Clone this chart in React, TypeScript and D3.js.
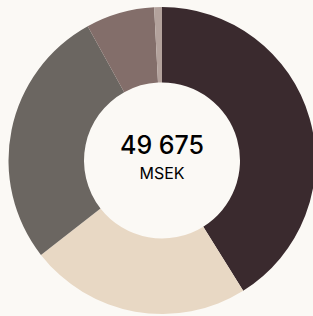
import React from "react";
import * as d3 from "d3";

const categories = ["A", "B", "C", "D", "E"];
const values = [20430, 11590, 13660, 3590, 405];
const colors = ["#3a2a2e", "#e8d8c4", "#6b6661", "#836e6a", "#b3a29c"];
const totalLabel = "49 675";
const unitLabel = "MSEK";

export default function App() {
  const W = 313, H = 316;
  const cx = 162, cy = 160.5;
  const outerR = 153.5, innerR = 78;
  const pie = d3.pie<number>().value((d) => d).sort(null);
  const arcs = pie(values);
  const arc = d3.arc<d3.PieArcDatum<number>>().innerRadius(innerR).outerRadius(outerR);
  React.useEffect(() => {
    document.body.style.margin = "0";
  }, []);
  return (
    <svg width={W} height={H} style={{ position: "absolute", left: 0, top: 0, display: "block" }}>
      <rect width={W} height={H} fill="#fbf9f5" />
      <g transform={`translate(${cx},${cy})`}>
        {arcs.map((a, i) => (
          <path key={categories[i]} d={arc(a) || ""} fill={colors[i]} />
        ))}
        <text x={0} y={-7} textAnchor="middle" fontFamily="Inter, 'Noto Sans', sans-serif" fontSize={25} fontWeight={500} fill="#000">
          {totalLabel}
        </text>
        <text x={0} y={18.5} textAnchor="middle" fontFamily="Inter, 'Noto Sans', sans-serif" fontSize={16} fill="#000">
          {unitLabel}
        </text>
      </g>
    </svg>
  );
}
